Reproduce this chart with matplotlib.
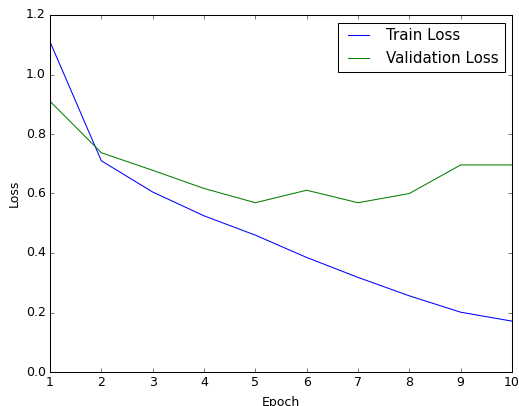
import matplotlib
matplotlib.use("Agg")
import matplotlib.pyplot as plt

plt.style.use('classic')

epochs = [1, 2, 3, 4, 5, 6, 7, 8, 9, 10]
train_loss = [1.11, 0.71, 0.605, 0.525, 0.46, 0.385, 0.318, 0.256, 0.201, 0.171]
val_loss = [0.91, 0.737, 0.678, 0.617, 0.569, 0.611, 0.569, 0.6, 0.696, 0.696]

W, H = 519, 406
dpi = 75
fig = plt.figure(figsize=(W / dpi, H / dpi), dpi=dpi, facecolor='white')
ax = fig.add_axes([50 / W, 1 - 372 / H, (512 - 50) / W, (372 - 15) / H])
ax.plot(epochs, train_loss, label='Train Loss', color='b')
ax.plot(epochs, val_loss, label='Validation Loss', color='g')
ax.set_xlim(1, 10)
ax.set_ylim(0, 1.2)
ax.set_xlabel('Epoch', labelpad=7)
ax.set_ylabel('Loss')
ax.legend(loc='upper right')
fig.savefig('out.png', dpi=dpi, facecolor='white')
